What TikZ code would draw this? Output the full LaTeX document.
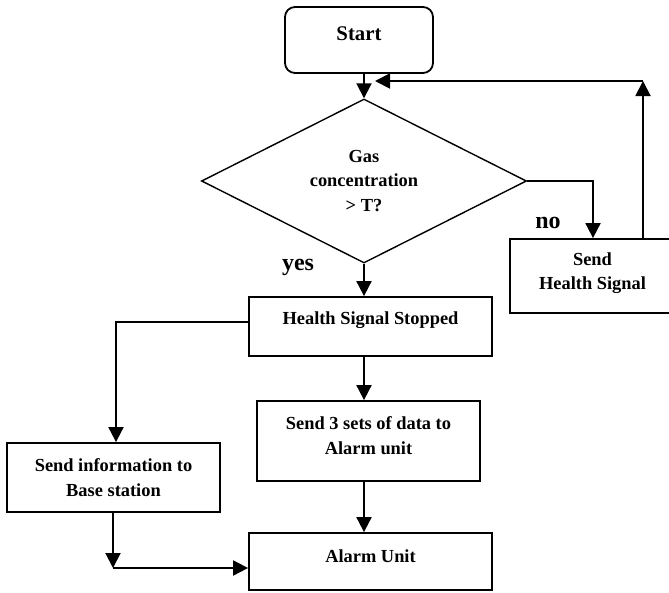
\documentclass[tikz,border=0pt]{standalone}
\usepackage{fontspec}
\setmainfont{Liberation Serif}
\usetikzlibrary{arrows.meta, shapes.geometric}
\tikzset{
  box/.style={rectangle,draw,line width=1.8pt,align=center,inner sep=3pt,font=\bfseries\fontsize{18.4}{24.5}\selectfont},
  startbox/.style={box,rounded corners=10pt,font=\bfseries\fontsize{20.8}{24.5}\selectfont},
  decision/.style={diamond,draw,line width=1.4pt,aspect=2,align=center,inner sep=0pt,font=\bfseries\fontsize{18.4}{24.5}\selectfont},
  tag/.style={font=\bfseries\fontsize{24}{28}\selectfont,inner sep=0pt},
  line/.style={-{Triangle[length=15pt,width=15pt]},line width=1.9pt}
}

\begin{document}
\begin{tikzpicture}[x=1pt,y=-1pt]
\useasboundingbox (0,0) rectangle (669,592);
\node[startbox, minimum width=148pt, minimum height=66pt, text depth=12pt] (start) at (359,40) {Start};
\node[decision, minimum width=325pt, minimum height=164pt] (gas) at (364,181) {Gas\\concentration\\> T?};
\node[box, minimum width=165pt, minimum height=74pt, text depth=10pt] (health) at (592.5,276) {Send\\Health Signal};
\node[box, minimum width=243pt, minimum height=59pt, text depth=17pt] (stopped) at (370.5,326.5) {Health Signal Stopped};
\node[box, minimum width=223pt, minimum height=80pt, text depth=11pt] (data) at (368.5,441) {Send 3 sets of data to\\Alarm unit};
\node[box, minimum width=213pt, minimum height=69pt] (base) at (113.5,477.5) {Send information to\\Base station};
\node[box, minimum width=243pt, minimum height=57pt, text depth=11pt] (alarm) at (370.5,561.5) {Alarm Unit};
\node[tag] (no) at (548,223) {no};
\node[tag] (yes) at (298,267) {yes};
\coordinate (up) at (643,81);
\coordinate (back) at (375,81);
\coordinate (turn) at (113,568);
\draw[line] (start.south -| gas.north) -- (gas.north);
\draw[line] (gas.east) -| ([xshift=0.5pt]health.north);
\draw[line] (health.north -| up) -- (up);
\draw[line] (up) -- (back);
\draw[line] (gas.south) -- (gas.south |- stopped.north);
\draw[line] (gas.south |- stopped.south) -- (gas.south |- data.north);
\draw[line] (gas.south |- data.south) -- (gas.south |- alarm.north);
\draw[line] ([yshift=4.5pt]stopped.west) -| ([xshift=2.5pt]base.north);
\draw[line] (base.south -| turn) -- (turn);
\draw[line] (turn) -- (turn -| alarm.west);
\end{tikzpicture}
\end{document}
